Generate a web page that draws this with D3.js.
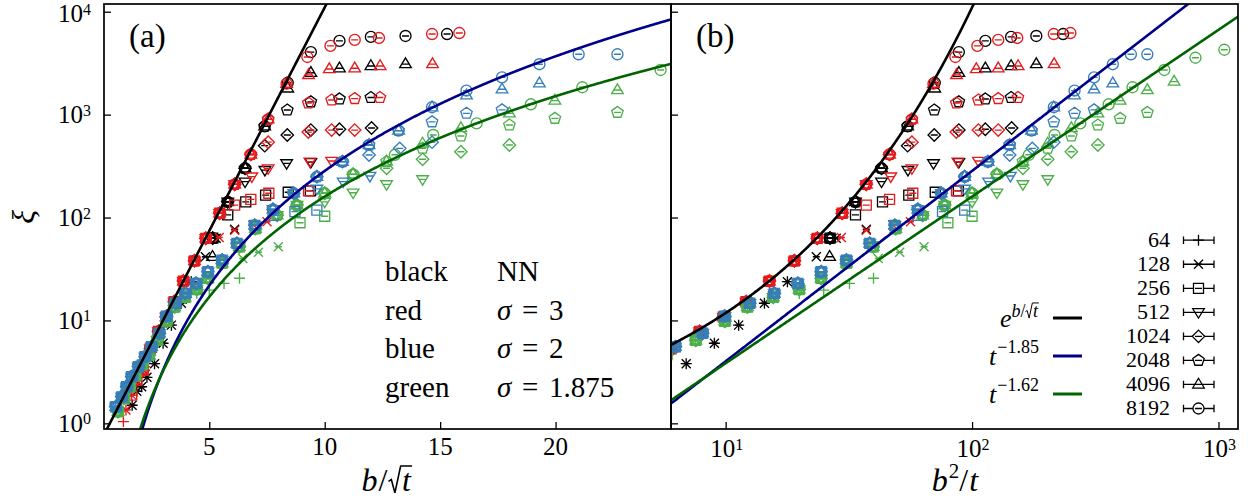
<!DOCTYPE html>
<html>
<head>
<meta charset="utf-8">
<script src="https://cdn.jsdelivr.net/npm/d3@7"></script>
<style>
body { margin: 0; background: #fff; }
</style>
</head>
<body>
<script>
// system sizes and their marker shapes (index = size)
var sizes = [64, 128, 256, 512, 1024, 2048, 4096, 8192];

// each point: [b/sqrt(t), xi, first size index, last size index] (same spot -> stacked markers)
var ptsNN = [
  [1.66,1.5,0,1],[1.86,2.05,0,1],[2.07,2.27,0,1],[2.3,2.8,0,1],[2.63,3.8,0,1],[3.0,6.0,0,1],
  [3.36,9.0,0,1],[3.79,14.7,0,1],[4.22,23.8,0,1],
  [4.83,41.6,1,1],[5.3,63,1,1],[6.1,77,1,1],[5.14,41.6,6,6],
  [5.15,63,2,7],[5.8,142,3,7],[6.55,301,4,7],[7.4,770,5,7],[8.4,2040,7,7],[8.4,1800,6,6],
  [5.8,106,2,2],[6.55,223,3,3],[6.58,142,2,2],
  [7.4,499,4,4],[7.41,289,3,3],[7.44,165,2,2],
  [8.38,1108,5,5],[8.38,634,4,4],[8.35,336,3,3],[8.42,176,2,2],
  [9.4,4055,7,7],[9.4,2550,6,6],[9.4,1330,5,5],[9.4,708,4,4],[9.4,345,3,3],[9.38,182,2,2],
  [10.64,5200,7,7],[10.64,2820,6,6],[10.64,1420,5,5],[10.64,721,4,4],
  [12.0,5690,7,7],[12.0,2970,6,6],[12.0,1466,5,5],[12.03,741,4,4],
  [13.5,5810,7,7],[13.5,3100,6,6],
  [15.3,6070,7,7]
];

var ptsS3 = [
  [1.28,1.04,0,0],[1.39,1.35,0,1],[1.64,1.88,0,2],[1.86,2.62,0,3],[2.14,3.28,0,4],[2.45,5.3,0,7],
  [2.8,7.8,0,7],[3.13,10.8,0,7],[3.48,15.2,0,7],[3.88,24.1,1,7],[4.36,37.9,1,7],[4.85,62.8,2,7],
  [5.45,110,2,7],[6.1,210,3,7],[6.8,410,4,7],[7.55,900,5,7],[8.35,2000,6,7],
  [5.43,64,1,1],[6.1,75,1,1],[6.9,85,1,1],[7.5,91,1,1],
  [6.1,132,2,2],[6.8,150,2,2],[7.58,172,2,2],[9.3,182,2,2],
  [6.84,250,3,3],[7.55,300,3,3],[9.36,349,3,3],[10.3,354,3,3],
  [7.55,540,4,4],[9.29,677,4,4],[10.3,708,4,4],[11.3,708,4,4],
  [9.29,1297,5,5],[10.3,1387,5,5],[11.3,1430,5,5],[12.39,1466,5,5],
  [9.3,2430,6,6],[10.2,2775,6,6],[11.3,2820,6,6],[12.4,2970,6,6],[14.67,3100,6,6],
  [9.25,3630,7,7],[10.25,4650,7,7],[11.3,5320,7,7],[12.35,5560,7,7],[14.65,6070,7,7],[15.83,6210,7,7]
];

var ptsS2 = [
  [0.95,1.45,0,7],[1.21,1.81,0,7],[1.42,2.27,0,7],[1.64,2.84,0,7],[1.93,3.55,0,7],[2.22,4.44,0,7],
  [2.5,5.55,0,7],[2.84,7.5,0,7],[3.15,11,0,7],[3.54,14.7,1,7],[3.97,18.3,1,7],[4.43,22.9,1,7],
  [4.94,29.7,2,7],[5.56,38.6,2,7],[6.2,56,2,7],[6.97,84,2,7],[7.76,120,3,7],[8.66,172,3,7],
  [9.66,249,4,7],[10.77,349,4,7],[11.92,507,5,7],[13.2,700,5,7],[14.65,1180,6,7],
  [7.76,105,2,2],[8.71,114,2,2],[9.66,118,2,2],
  [9.66,190,3,3],[10.8,223,3,3],[11.96,253,3,3],
  [11.92,405,4,4],[13.25,470,4,4],[14.65,540,4,4],
  [14.65,850,5,5],[16.14,1030,5,5],[17.68,1113,5,5],
  [16.14,1540,6,6],[17.68,1765,6,6],[19.3,2015,6,6],
  [16.14,1710,7,7],[17.68,2300,7,7],[19.3,3090,7,7],[21.0,3860,7,7],[22.68,3860,7,7]
];

var ptsS1875 = [
  [1.05,1.3,0,7],[1.3,1.75,0,7],[1.55,2.25,0,7],[1.8,2.9,0,7],[2.1,3.7,0,7],[2.4,4.6,0,7],
  [2.75,6.4,0,7],[3.15,9.8,0,7],[3.5,13.5,0,7],[3.95,16.8,0,7],[4.46,20,1,7],[4.94,25.6,1,7],
  [5.56,36,1,7],[6.3,52,2,7],[7.0,78,2,7],[7.94,105,3,7],[8.8,132,3,7],[10.0,172,4,7],
  [11.23,263,4,7],[12.68,350,5,6],
  [4.46,18.3,0,0],[5.0,19.7,0,0],[5.64,22.9,0,0],[6.31,25.7,0,0],
  [6.45,40,1,1],[7.13,46,1,1],[7.99,52,1,1],
  [8.93,89,2,2],[10.0,103,2,2],
  [10.0,142,3,3],[11.23,174,3,3],[12.68,210,3,3],[14.24,235,3,3],
  [12.68,301,4,4],[14.24,368,4,4],[15.9,436,4,4],[18.0,507,4,4],
  [14.24,471,5,5],[15.9,620,5,5],[18.0,793,5,5],[19.97,920,5,5],[22.68,1050,5,5],
  [14.24,525,6,6],[15.9,740,6,6],[18.0,1030,6,6],[19.97,1370,6,6],[22.68,1735,6,6],[25.7,2095,6,6],
  [13.04,407,7,7],[14.7,634,7,7],[16.58,822,7,7],[18.93,1260,7,7],[21.16,1845,7,7],[24.55,2715,7,7],
  [28.4,3570,7,7],[32.5,4270,7,7]
];

// fitted curves
var fitNN = {amp: 0.5, rate: 1.0};        // xi = amp * exp(rate * b/sqrt(t))
var fitS2 = {amp: 0.0566, expo: 1.85};    // xi = amp * (b^2/t)^expo
var fitS1875 = {amp: 0.092, expo: 1.62};

var tableRows = [["black", "NN", ""], ["red", "\u03c3", "3"], ["blue", "\u03c3", "2"], ["green", "\u03c3", "1.875"]];

var FONT = "'Liberation Serif', 'DejaVu Serif', serif";

var W = 1256, H = 503;
var svg = d3.select("body").append("svg").attr("width", W).attr("height", H)
  .attr("font-family", FONT).style("font-family", FONT);
svg.append("rect").attr("width", W).attr("height", H).attr("fill", "#fff");

var y = d3.scaleLog().domain([0.881, 11885]).range([429, 4]);
var xa = d3.scaleLinear().domain([0.44, 25]).range([104, 671]);
var xb = d3.scaleLog().domain([6.0, 1200]).range([671, 1238]);

var models = [
  {pts: ptsNN, color: "#000000"},
  {pts: ptsS3, color: "#e41a1c"},
  {pts: ptsS1875, color: "#4daf4a"},
  {pts: ptsS2, color: "#377eb8"}
];

var fits = [
  {color: "#000000", fn: function(u) { return fitNN.amp * Math.exp(fitNN.rate * u); }},
  {color: "#00008b", fn: function(u) { return fitS2.amp * Math.pow(u * u, fitS2.expo); }},
  {color: "#006400", fn: function(u) { return fitS1875.amp * Math.pow(u * u, fitS1875.expo); }}
];

function markerPath(s) {
  var dash = "M-3.5,0H3.5";
  switch (s) {
    case 0: return "M-5.5,0H5.5M0,-5.5V5.5";
    case 1: return "M-4.5,-4.5L4.5,4.5M-4.5,4.5L4.5,-4.5" + dash;
    case 2: return "M-5,-5H5V5H-5Z" + dash;
    case 3: return "M-5.8,-3.6H5.8L0,5.8Z" + dash;
    case 4: return "M0,-6.2L6.2,0L0,6.2L-6.2,0Z" + dash;
    case 5:
      var p = d3.range(5).map(function(k) {
        var a = -Math.PI / 2 + k * 2 * Math.PI / 5;
        return [6 * Math.cos(a), 6 * Math.sin(a)];
      });
      return "M" + p.join("L") + "Z" + dash;
    case 6: return "M0,-6.2L5.8,3.6H-5.8Z" + dash;
    default: return "M5.5,0A5.5,5.5 0 1,1 -5.5,0A5.5,5.5 0 1,1 5.5,0Z" + dash;
  }
}

var uGrid = d3.range(0.3, 36, 0.02);

function txt(x, yb, size) {
  return svg.append("text").attr("x", x).attr("y", yb)
    .attr("font-family", FONT).style("font-size", size + "px").attr("fill", "#000");
}

function panel(id, xs, xOf) {
  var r = xs.range();
  svg.append("clipPath").attr("id", id)
    .append("rect").attr("x", r[0]).attr("y", 4).attr("width", r[1] - r[0]).attr("height", 425);
  var g = svg.append("g").attr("clip-path", "url(#" + id + ")");

  models.forEach(function(m) {
    m.pts.forEach(function(d) {
      for (var s = d[2]; s <= d[3]; s++) {
        g.append("path")
          .attr("transform", "translate(" + xs(xOf(d[0])) + "," + y(d[1]) + ")")
          .attr("d", markerPath(s))
          .attr("fill", "none")
          .attr("stroke", m.color)
          .attr("stroke-width", 1.35);
      }
    });
  });

  fits.forEach(function(f) {
    var line = d3.line()
      .x(function(u) { return xs(xOf(u)); })
      .y(function(u) { return y(f.fn(u)); });
    g.append("path").datum(uGrid)
      .attr("d", line)
      .attr("fill", "none")
      .attr("stroke", f.color)
      .attr("stroke-width", 2.6);
  });

  // ticks pointing inward
  svg.append("g").attr("transform", "translate(" + r[0] + ",0)")
    .call(d3.axisLeft(y).tickValues([1, 10, 100, 1000, 10000]).tickSize(-7).tickFormat(""))
    .call(function(a) { a.select(".domain").remove(); a.selectAll("line").attr("stroke-width", 1.3); });

  svg.append("rect").attr("x", r[0]).attr("y", 4).attr("width", r[1] - r[0]).attr("height", 425)
    .attr("fill", "none").attr("stroke", "#000").attr("stroke-width", 1.7);
}

panel("clipA", xa, function(u) { return u; });
panel("clipB", xb, function(u) { return u * u; });

// x ticks
svg.append("g").attr("transform", "translate(0,429)")
  .call(d3.axisBottom(xa).tickValues([5, 10, 15, 20]).tickSize(-7).tickFormat(""))
  .call(function(a) { a.select(".domain").remove(); a.selectAll("line").attr("stroke-width", 1.3); });
svg.append("g").attr("transform", "translate(0,429)")
  .call(d3.axisBottom(xb).tickValues([10, 100, 1000]).tickSize(-7).tickFormat(""))
  .call(function(a) { a.select(".domain").remove(); a.selectAll("line").attr("stroke-width", 1.3); });

[5, 10, 15, 20].forEach(function(v) {
  txt(xa(v), 455, 25).attr("text-anchor", "middle").text(v);
});

function powTen(x, yb, e, anchor) {
  var t = txt(x, yb, 25).attr("text-anchor", anchor);
  t.append("tspan").text("10");
  t.append("tspan").attr("dy", -7.5).style("font-size", "16px").text(e);
}
[0, 1, 2, 3, 4].forEach(function(e) {
  // top label nudged down slightly so it stays inside the picture
  powTen(91, y(Math.pow(10, e)) + (e === 4 ? 10.5 : 8.5), e, "end");
});
[1, 2, 3].forEach(function(e) { powTen(xb(Math.pow(10, e)) + 1, 457, e, "middle"); });

// math labels with a drawn radical
function mathLabel(x, yb, parts, anchor) {
  var g = svg.append("g");
  var cx = 0;
  parts.forEach(function(p) {
    var fs = p.fs, dy = p.dy || 0;
    if (p.sqrt) {
      var r0 = cx;
      var rad = g.append("path").attr("fill", "none").attr("stroke", "#000").attr("stroke-width", Math.max(1, fs * 0.05));
      cx += fs * 0.42;
      var t = g.append("text").attr("x", cx).attr("y", dy).attr("font-family", FONT).style("font-size", fs + "px")
        .style("font-style", "italic").text(p.sqrt);
      var w = t.node().getComputedTextLength();
      rad.attr("d", "M" + r0 + "," + (dy - fs * 0.3) + "L" + (r0 + fs * 0.09) + "," + (dy - fs * 0.36) +
        "L" + (r0 + fs * 0.2) + "," + (dy + fs * 0.06) + "L" + (r0 + fs * 0.38) + "," + (dy - fs * 0.78) +
        "H" + (cx + w + fs * 0.04));
      cx += w + fs * 0.05;
    } else {
      var t2 = g.append("text").attr("x", cx).attr("y", dy).attr("font-family", FONT).style("font-size", fs + "px")
        .style("font-style", p.it ? "italic" : "normal").text(p.t);
      cx += t2.node().getComputedTextLength() + (p.sp || 0);
    }
  });
  var off = anchor === "end" ? -cx : anchor === "middle" ? -cx / 2 : 0;
  g.attr("transform", "translate(" + (x + off) + "," + yb + ")");
}

mathLabel(387, 491, [{t: "b", it: true, fs: 32, sp: 1}, {t: "/", fs: 32, sp: 1}, {sqrt: "t", fs: 32}], "middle");
mathLabel(955, 491, [{t: "b", it: true, fs: 32, sp: 1}, {t: "2", fs: 21, dy: -13}, {t: "/", fs: 32, sp: 1}, {t: "t", it: true, fs: 32}], "middle");

svg.append("text").attr("transform", "translate(34,217) rotate(-90)").attr("text-anchor", "middle")
  .attr("font-family", FONT).style("font-size", "32px").style("font-style", "italic").text("\u03be");

txt(129, 47, 33).text("(a)");
txt(696, 47, 33).text("(b)");

// colour key in panel (a)
tableRows.forEach(function(row, i) {
  var yb = 281 + i * 38.5;
  txt(385, yb, 29).text(row[0]);
  if (row[2] === "") {
    txt(497, yb, 29).text(row[1]);
  } else {
    txt(497, yb, 29).style("font-style", "italic").text(row[1]);
    txt(522, yb, 29).text("=");
    txt(549, yb, 29).text(row[2]);
  }
});

// legend of fits
var fitKeys = [
  {y: 318, color: "#000000", parts: [{t: "e", it: true, fs: 26}, {t: "b", it: true, fs: 18, dy: -10}, {t: "/", fs: 18, dy: -10}, {sqrt: "t", fs: 18, dy: -10}], base: 327},
  {y: 356, color: "#00008b", parts: [{t: "t", it: true, fs: 26, sp: 1}, {t: "\u22121.85", fs: 18, dy: -12}], base: 365},
  {y: 394, color: "#006400", parts: [{t: "t", it: true, fs: 26, sp: 1}, {t: "\u22121.62", fs: 18, dy: -12}], base: 403}
];
fitKeys.forEach(function(k) {
  mathLabel(1039, k.base, k.parts, "end");
  svg.append("line").attr("x1", 1053).attr("x2", 1082).attr("y1", k.y).attr("y2", k.y)
    .attr("stroke", k.color).attr("stroke-width", 3);
});

// legend of system sizes
sizes.forEach(function(L, i) {
  var yb = 246.7 + i * 24.04, yc = yb - 6.5;
  txt(1170, yb, 22).attr("text-anchor", "end").text(L);
  svg.append("path")
    .attr("d", "M1183.5," + yc + "H1214M1183.5," + (yc - 3.8) + "V" + (yc + 3.8) + "M1214," + (yc - 3.8) + "V" + (yc + 3.8))
    .attr("stroke", "#000").attr("stroke-width", 1.3).attr("fill", "none");
  svg.append("path").attr("transform", "translate(1198.5," + yc + ")")
    .attr("d", markerPath(i)).attr("fill", "#fff").attr("stroke", "#000").attr("stroke-width", 1.3);
});
</script>
</body>
</html>
